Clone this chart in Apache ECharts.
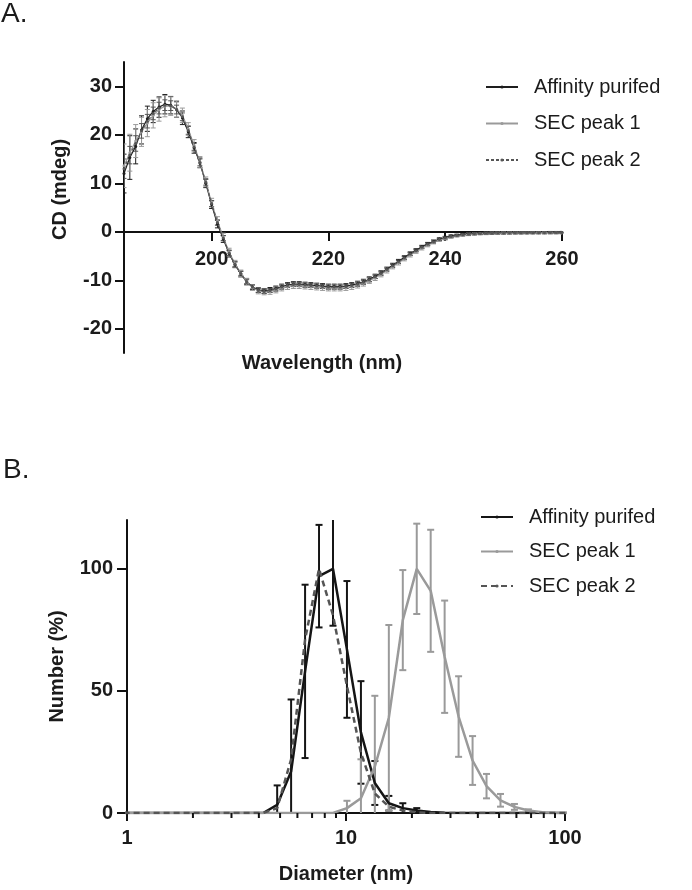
<!DOCTYPE html>
<html>
<head>
<meta charset="utf-8">
<script src="https://cdn.jsdelivr.net/npm/echarts@6/dist/echarts.min.js"></script>
<style>html,body{margin:0;padding:0;background:#fff}#c{width:692px;height:890px}</style>
</head>
<body>
<div id="c"></div>
<script>
// ---------- Panel A: CD spectra ----------
const wavelength = [185,186,187,188,189,190,191,192,193,194,195,196,197,198,199,200,201,202,203,204,205,206,207,208,209,210,211,212,213,214,215,216,217,218,219,220,221,222,223,224,225,226,227,228,229,230,231,232,233,234,235,236,237,238,239,240,241,242,243,244,245,246,247,248,249,250,251,252,253,254,255,256,257,258,259,260];
const cdAffinity = [12.0,15.3,17.6,21.0,23.3,24.8,25.7,26.3,26.1,25.2,
  23.5,20.6,17.3,14.2,10.0,5.6,1.6,-1.5,-4.5,-6.8,
  -8.7,-10.3,-11.4,-12.0,-12.2,-12.0,-11.7,-11.3,-11.0,-10.8,
  -10.8,-10.9,-11.0,-11.1,-11.2,-11.3,-11.3,-11.3,-11.2,-11.0,
  -10.7,-10.3,-9.8,-9.2,-8.5,-7.7,-6.9,-6.1,-5.3,-4.5,
  -3.8,-3.1,-2.5,-2.0,-1.5,-1.2,-0.9,-0.7,-0.55,-0.45,
  -0.38,-0.32,-0.28,-0.25,-0.22,-0.2,-0.2,-0.18,-0.18,-0.16,
  -0.16,-0.15,-0.15,-0.14,-0.14,-0.13];
const cdSec1 = [13.6,16.3,18.7,20.6,22.4,24.0,25.2,25.9,25.9,25.3,
  24.0,21.2,17.8,14.4,10.3,6.0,2.2,-1.1,-4.2,-6.6,
  -8.6,-10.3,-11.5,-12.2,-12.4,-12.3,-12.0,-11.6,-11.3,-11.1,
  -11.1,-11.2,-11.3,-11.4,-11.5,-11.6,-11.6,-11.6,-11.5,-11.3,
  -11.0,-10.6,-10.1,-9.5,-8.8,-8.0,-7.2,-6.4,-5.6,-4.8,
  -4.1,-3.4,-2.8,-2.2,-1.7,-1.4,-1.1,-0.85,-0.68,-0.55,
  -0.46,-0.4,-0.35,-0.32,-0.3,-0.28,-0.27,-0.26,-0.25,-0.24,
  -0.23,-0.23,-0.22,-0.22,-0.21,-0.21];
const cdSec2 = [13.0,15.8,18.2,20.8,22.8,24.4,25.5,26.1,26.0,25.2,
  23.7,20.9,17.5,14.3,10.2,5.8,1.9,-1.3,-4.4,-6.7,
  -8.6,-10.3,-11.4,-12.1,-12.3,-12.1,-11.8,-11.4,-11.1,-10.9,
  -10.9,-11.0,-11.1,-11.2,-11.3,-11.4,-11.4,-11.4,-11.3,-11.1,
  -10.8,-10.4,-9.9,-9.3,-8.6,-7.8,-7.0,-6.2,-5.4,-4.6,
  -3.9,-3.2,-2.6,-2.1,-1.6,-1.3,-1.0,-0.78,-0.62,-0.5,
  -0.42,-0.36,-0.32,-0.29,-0.26,-0.24,-0.23,-0.22,-0.21,-0.2,
  -0.2,-0.19,-0.19,-0.18,-0.18,-0.17];
const sdCdAffinity = [4.0,4.5,3.6,2.9,2.6,2.3,2.1,2.0,1.8,1.6,
  1.4,1.2,1.1,1.0,0.9,0.8,0.8,0.7,0.7,0.6,
  0.6,0.6,0.5,0.5,0.5,0.5,0.5,0.5,0.5,0.5,
  0.5,0.5,0.5,0.5,0.5,0.5,0.5,0.5,0.5,0.5,
  0.5,0.5,0.5,0.45,0.45,0.4,0.4,0.4,0.35,0.35,
  0.3,0.3,0.3,0.3,0.25,0.25,0.25,0.2,0.2,0.2,
  0.2,0.2,0.2,0.2,0.2,0.2,0.2,0.2,0.2,0.2,
  0.2,0.2,0.2,0.2,0.2,0.2];
const sdCdSec1 = [4.5,3.8,3.4,3.0,2.8,2.6,2.4,2.2,1.9,1.7,
  1.5,1.3,1.2,1.1,1.0,0.9,0.9,0.8,0.8,0.7,
  0.7,0.7,0.6,0.6,0.6,0.6,0.6,0.6,0.6,0.6,
  0.6,0.6,0.6,0.6,0.6,0.6,0.6,0.6,0.6,0.6,
  0.6,0.6,0.55,0.55,0.5,0.5,0.45,0.45,0.4,0.4,
  0.35,0.35,0.3,0.3,0.3,0.3,0.25,0.25,0.25,0.25,
  0.25,0.25,0.25,0.25,0.25,0.25,0.25,0.25,0.25,0.25,
  0.25,0.25,0.25,0.25,0.25,0.25];
const sdCdSec2 = [2.0,1.8,1.6,1.5,1.4,1.3,1.2,1.1,1.0,0.9,
  0.8,0.8,0.7,0.7,0.6,0.6,0.5,0.5,0.5,0.5,
  0.4,0.4,0.4,0.4,0.4,0.4,0.4,0.4,0.4,0.4,
  0.4,0.4,0.4,0.4,0.4,0.4,0.4,0.4,0.4,0.4,
  0.4,0.4,0.4,0.35,0.35,0.3,0.3,0.3,0.3,0.3,
  0.25,0.25,0.25,0.2,0.2,0.2,0.2,0.2,0.2,0.2,
  0.2,0.2,0.2,0.2,0.2,0.2,0.2,0.2,0.2,0.2,
  0.2,0.2,0.2,0.2,0.2,0.2];
const cdXTicks = [200,220,240,260];
const cdYTicks = [-20,-10,0,10,20,30];

// ---------- Panel B: DLS size distribution ----------
const diameter = [0.965,1.117,1.294,1.499,1.736,2.010,2.328,2.696,3.122,3.615,4.187,
  4.849,5.615,6.503,7.531,8.721,10.10,11.70,13.54,15.69,18.17,21.04,
  24.36,28.21,32.67,37.84,43.82,50.75,58.77,68.06,78.82,91.28,105.7];
const numAffinity = [0,0,0,0,0,0,0,0,0,0,0,
  3.3,17,58,97,100,67,33,12.3,4,2,1,
  0.4,0.1,0,0,0,0,0,0,0,0,0];
const sdNumAffinity = [0,0,0,0,0,0,0,0,0,0,0,
  8,29.5,35.5,21,23.3,28,21,9,3,2,1,
  0,0,0,0,0,0,0,0,0,0,0];
const numSec1 = [0,0,0,0,0,0,0,0,0,0,0,
  0,0,0,0,0,2,6,19,39,79,100,
  91,64,39.5,21.5,11,5.2,2.5,1,0.3,0,0];
const sdNumSec1 = [0,0,0,0,0,0,0,0,0,0,0,
  0,0,0,0,0,3,16,29,38,20.5,18.5,
  25,23,16.5,10,5,2.6,1.2,0.5,0,0,0];
const numSec2 = [0,0,0,0,0,0,0,0,0,0,0,
  2,22,71,100,81,52,24.6,8,2.6,1,0.3,
  0,0,0,0,0,0,0,0,0,0,0];
const dlsMajorTicks = [1,10,100];
const dlsMinorTicks = [2,3,4,5,6,7,8,9,20,30,40,50,60,70,80,90];
const dlsYTicks = [0,50,100];

const seriesNames = ['Affinity purifed','SEC peak 1','SEC peak 2'];

// ---------- helpers ----------
const FONT = "'Liberation Sans', Arial, Helvetica, sans-serif";
const INK = '#1b1b1b';
function pairs(xs, ys){ return xs.map((x,i)=>[x, ys[i]]); }
function errData(xs, means, sds, lo, hi){
  const out = [];
  xs.forEach((x,i)=>{
    const s = sds[i]; if(!s) return;
    const a = means[i]-s, b = means[i]+s;
    out.push([x, Math.max(lo,a), Math.min(hi,b), a>=lo?1:0, b<=hi?1:0]);
  });
  return out;
}
function errRender(color, capHalf, width){
  return function(params, api){
    const x = api.value(0);
    const pL = api.coord([x, api.value(1)]);
    const pH = api.coord([x, api.value(2)]);
    const st = {stroke: color, lineWidth: width};
    const ch = [{type:'line', shape:{x1:pL[0],y1:pL[1],x2:pH[0],y2:pH[1]}, style:st}];
    if (api.value(3)) ch.push({type:'line', shape:{x1:pL[0]-capHalf,y1:pL[1],x2:pL[0]+capHalf,y2:pL[1]}, style:st});
    if (api.value(4)) ch.push({type:'line', shape:{x1:pH[0]-capHalf,y1:pH[1],x2:pH[0]+capHalf,y2:pH[1]}, style:st});
    return {type:'group', children: ch};
  };
}
function minorTickRender(params, api){
  const p = api.coord([api.value(0), api.value(1)]);
  return {type:'line', shape:{x1:p[0], y1:p[1], x2:p[0], y2:p[1]+5}, style:{stroke:'#111', lineWidth:2}};
}
const errEncode = {x:0, y:[1,2]};
const tickLabel = {color: INK, fontFamily: FONT, fontWeight: 'bold', fontSize: 20};
const axisTitle = {color: INK, fontFamily: FONT, fontWeight: 'bold', fontSize: 20};
const axLine = {show:true, onZero:false, lineStyle:{color:'#111', width:2}};

const cA = ['#1e1e1e', '#9a9a9a', '#555555'];
const cB = ['#151515', '#9a9a9a', '#555555'];

const chart = echarts.init(document.getElementById('c'), null, {renderer:'canvas'});
chart.setOption({
  backgroundColor: '#fff',
  animation: false,
  title: [
    {text:'A.', left: 1, top: 0, padding: 0, textStyle:{fontFamily: FONT, fontWeight:'normal', fontSize: 28, color: INK}},
    {text:'B.', left: 3, top: 456, padding: 0, textStyle:{fontFamily: FONT, fontWeight:'normal', fontSize: 28, color: INK}}
  ],
  legend: [
    {data: seriesNames, orient:'vertical', left: 485, top: 77, padding: 0, itemWidth: 32, itemHeight: 4, itemGap: 16.5,
     textStyle:{fontFamily: FONT, fontSize: 20, color: INK, padding:[0,0,0,11]}},
    {data: seriesNames.map(n=>'B|'+n), orient:'vertical', left: 480, top: 507, padding: 0, itemWidth: 32, itemHeight: 4, itemGap: 14.5,
     formatter: n => n.split('|').pop(),
     textStyle:{fontFamily: FONT, fontSize: 20, color: INK, padding:[0,0,0,11]}}
  ],
  grid: [
    {left: 124, top: 62, width: 438, height: 291},
    {left: 127, top: 520, width: 438, height: 293}
  ],
  xAxis: [
    {type:'value', gridIndex:0, min:185, max:260, splitLine:{show:false},
     position:'bottom', offset: -121,
     axisLine: axLine,
     axisTick:{show:true, length:9, lineStyle:{color:'#111', width:2}, customValues: cdXTicks},
     axisLabel: Object.assign({margin: 17, customValues: cdXTicks}, tickLabel),
     name:'Wavelength (nm)', nameLocation:'middle', nameGap: 121,
     nameTextStyle: Object.assign({padding:[0,42,0,0]}, axisTitle)},
    {type:'log', logBase:10, gridIndex:1, min:1, max:100, splitLine:{show:false},
     axisLine: axLine,
     axisTick:{show:true, length:8, lineStyle:{color:'#111', width:2}, customValues: dlsMajorTicks},
     axisLabel: Object.assign({margin: 15, customValues: dlsMajorTicks}, tickLabel),
     name:'Diameter (nm)', nameLocation:'middle', nameGap: 51, nameTextStyle: axisTitle}
  ],
  yAxis: [
    {type:'value', gridIndex:0, min:-25, max:35, splitLine:{show:false},
     axisLine: axLine,
     axisTick:{show:true, length:9, lineStyle:{color:'#111', width:2}, customValues: cdYTicks},
     axisLabel: Object.assign({margin: 12, customValues: cdYTicks}, tickLabel),
     name:'CD (mdeg)', nameLocation:'middle', nameGap: 54,
     nameTextStyle: Object.assign({padding:[0,0,0,36]}, axisTitle)},
    {type:'value', gridIndex:1, min:0, max:120, splitLine:{show:false},
     axisLine: axLine,
     axisTick:{show:true, length:10, lineStyle:{color:'#111', width:2}, customValues: dlsYTicks},
     axisLabel: Object.assign({margin: 14, customValues: dlsYTicks}, tickLabel),
     name:'Number (%)', nameLocation:'middle', nameGap: 60, nameTextStyle: axisTitle}
  ],
  series: [
    // Panel A error bars
    {type:'custom', name:'errA0', xAxisIndex:0, yAxisIndex:0, clip:true, encode: errEncode, z: 2,
     renderItem: errRender(cA[0], 2.5, 1), data: errData(wavelength, cdAffinity, sdCdAffinity, -25, 35)},
    {type:'custom', name:'errA1', xAxisIndex:0, yAxisIndex:0, clip:true, encode: errEncode, z: 2,
     renderItem: errRender(cA[1], 2.5, 1), data: errData(wavelength, cdSec1, sdCdSec1, -25, 35)},
    {type:'custom', name:'errA2', xAxisIndex:0, yAxisIndex:0, clip:true, encode: errEncode, z: 2,
     renderItem: errRender(cA[2], 2.5, 1), data: errData(wavelength, cdSec2, sdCdSec2, -25, 35)},
    // Panel A lines
    {type:'line', name: seriesNames[0], xAxisIndex:0, yAxisIndex:0, data: pairs(wavelength, cdAffinity), z: 3,
     symbol:'circle', symbolSize:3, showSymbol:true, lineStyle:{color:cA[0], width:1.2}, itemStyle:{color:cA[0]}},
    {type:'line', name: seriesNames[1], xAxisIndex:0, yAxisIndex:0, data: pairs(wavelength, cdSec1), z: 3,
     symbol:'circle', symbolSize:3, showSymbol:true, lineStyle:{color:cA[1], width:1.2}, itemStyle:{color:cA[1]}},
    {type:'line', name: seriesNames[2], xAxisIndex:0, yAxisIndex:0, data: pairs(wavelength, cdSec2), z: 3,
     symbol:'circle', symbolSize:3, showSymbol:true, lineStyle:{color:cA[2], width:1.2, type:[3,2]}, itemStyle:{color:cA[2]}},
    // Panel B minor ticks on the log axis (drawn through the axis scale)
    {type:'custom', name:'minorTicks', xAxisIndex:1, yAxisIndex:1, clip:false, silent:true, encode:{x:0, y:1}, z: 5,
     renderItem: minorTickRender, data: dlsMinorTicks.map(v => [v, 0])},
    // Panel B error bars
    {type:'custom', name:'errB0', xAxisIndex:1, yAxisIndex:1, clip:true, encode: errEncode, z: 2,
     renderItem: errRender(cB[0], 3.5, 2), data: errData(diameter, numAffinity, sdNumAffinity, 0, 120)},
    {type:'custom', name:'errB1', xAxisIndex:1, yAxisIndex:1, clip:true, encode: errEncode, z: 2,
     renderItem: errRender(cB[1], 3.5, 2), data: errData(diameter, numSec1, sdNumSec1, 0, 120)},
    // Panel B lines
    {type:'line', name: 'B|'+seriesNames[0], xAxisIndex:1, yAxisIndex:1, data: pairs(diameter, numAffinity), z: 3,
     showSymbol:false, symbol:'circle', lineStyle:{color:cB[0], width:2.5}, itemStyle:{color:cB[0]}},
    {type:'line', name: 'B|'+seriesNames[1], xAxisIndex:1, yAxisIndex:1, data: pairs(diameter, numSec1), z: 3,
     showSymbol:false, symbol:'circle', lineStyle:{color:cB[1], width:2.5}, itemStyle:{color:cB[1]}},
    {type:'line', name: 'B|'+seriesNames[2], xAxisIndex:1, yAxisIndex:1, data: pairs(diameter, numSec2), z: 4,
     showSymbol:false, symbol:'circle', lineStyle:{color:cB[2], width:2.5, type:[6,4]}, itemStyle:{color:cB[2]}}
  ]
});
</script>
</body>
</html>
